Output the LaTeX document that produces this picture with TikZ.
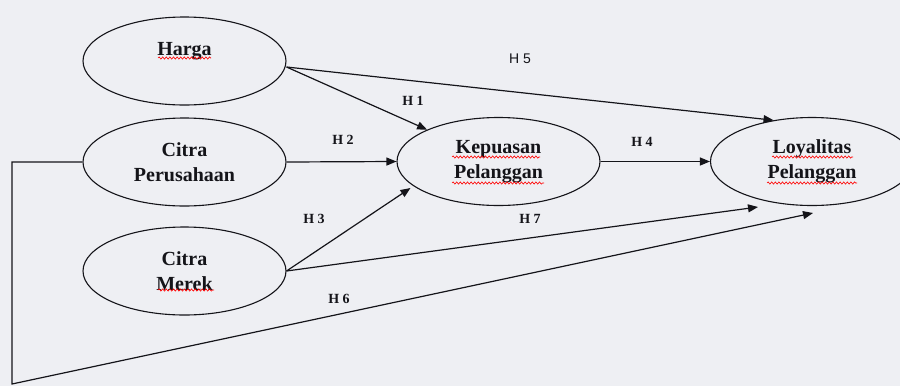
\documentclass[tikz,border=0pt]{standalone}
\usepackage{fontspec}
\setmainfont{Liberation Serif}
\newfontfamily\hsans{Liberation Sans}
\usetikzlibrary{shapes.geometric,arrows.meta,decorations.pathmorphing}
\definecolor{bgc}{RGB}{238,239,243}
\definecolor{ink}{RGB}{20,20,25}
\tikzset{
  ell/.style={ellipse, draw=ink, line width=1.1pt, minimum width=203pt, minimum height=88pt,
    inner sep=0pt, align=center, text=ink, font=\bfseries\fontsize{20}{25}\selectfont},
  hlab/.style={inner sep=0pt, text=ink, font=\bfseries\fontsize{14}{16}\selectfont},
  hlabs/.style={inner sep=0pt, text=ink, font=\hsans\fontsize{14}{16}\selectfont},
  conn/.style={draw=ink, line width=1.2pt, -{Triangle[length=10pt,width=8pt]}},
  wave/.style={draw=red, line width=0.6pt, decorate,
    decoration={snake, amplitude=1.1pt, segment length=3.6pt}}
}
\begin{document}
\begin{tikzpicture}[x=1pt,y=-1pt]
\fill[bgc] (0,0) rectangle (900,386);
\useasboundingbox (0,0) rectangle (900,386);
\begin{scope}
\clip (0,0) rectangle (900,386);
\node[ell] (h) at (184.5,61) {\raisebox{6pt}[0pt][0pt]{Harga}};
\node[ell] (cp) at (184.5,162) {Citra\\Perusahaan};
\node[ell] (cm) at (184.5,271) {Citra\\Merek};
\node[ell] (k) at (498.5,161.5) {Kepuasan\\Pelanggan};
\node[ell] (l) at (812,161.5) {Loyalitas\\Pelanggan};

% spell-check underlines
\draw[wave] (158,58) -- (211,58);
\draw[wave] (158,290) -- (214,290);
\draw[wave] (452,157) -- (540,157);
\draw[wave] (452,183) -- (544,183);
\draw[wave] (772,157) -- (853,157);
\draw[wave] (767,183) -- (857,183);

\coordinate (hs) at ([yshift=-6pt]h.east);
\coordinate (t3) at ([xshift=-88pt,yshift=-26.5pt]k.center);
\coordinate (t7) at ([xshift=-54pt,yshift=-45.5pt]l.center);
\coordinate (t6) at ([xshift=1pt,yshift=-51.5pt]l.center);
\coordinate (c1) at (12,162);
\coordinate (c2) at (12,384);

\draw[conn] (hs) -- (k);
\draw[conn] (hs) -- (l.133);
\draw[conn] (cp.east) -- (k.west);
\draw[conn] (cm.east) -- (t3);
\draw[conn] (cm.east) -- (t7);
\draw[conn] (k.east) -- (l.west);
\draw[conn] (cp.west) -- (c1) -- (c2) -- (t6);

\node[hlabs] (l5) at (520,59) {H 5};
\node[hlab] (l1) at (413,101) {H 1};
\node[hlab] (l2) at (343,140) {H 2};
\node[hlab] (l4) at (642,142) {H 4};
\node[hlab] (l3) at (314,219) {H 3};
\node[hlab] (l7) at (530,219) {H 7};
\node[hlab] (l6) at (339,299) {H 6};
\end{scope}
\end{tikzpicture}
\end{document}
